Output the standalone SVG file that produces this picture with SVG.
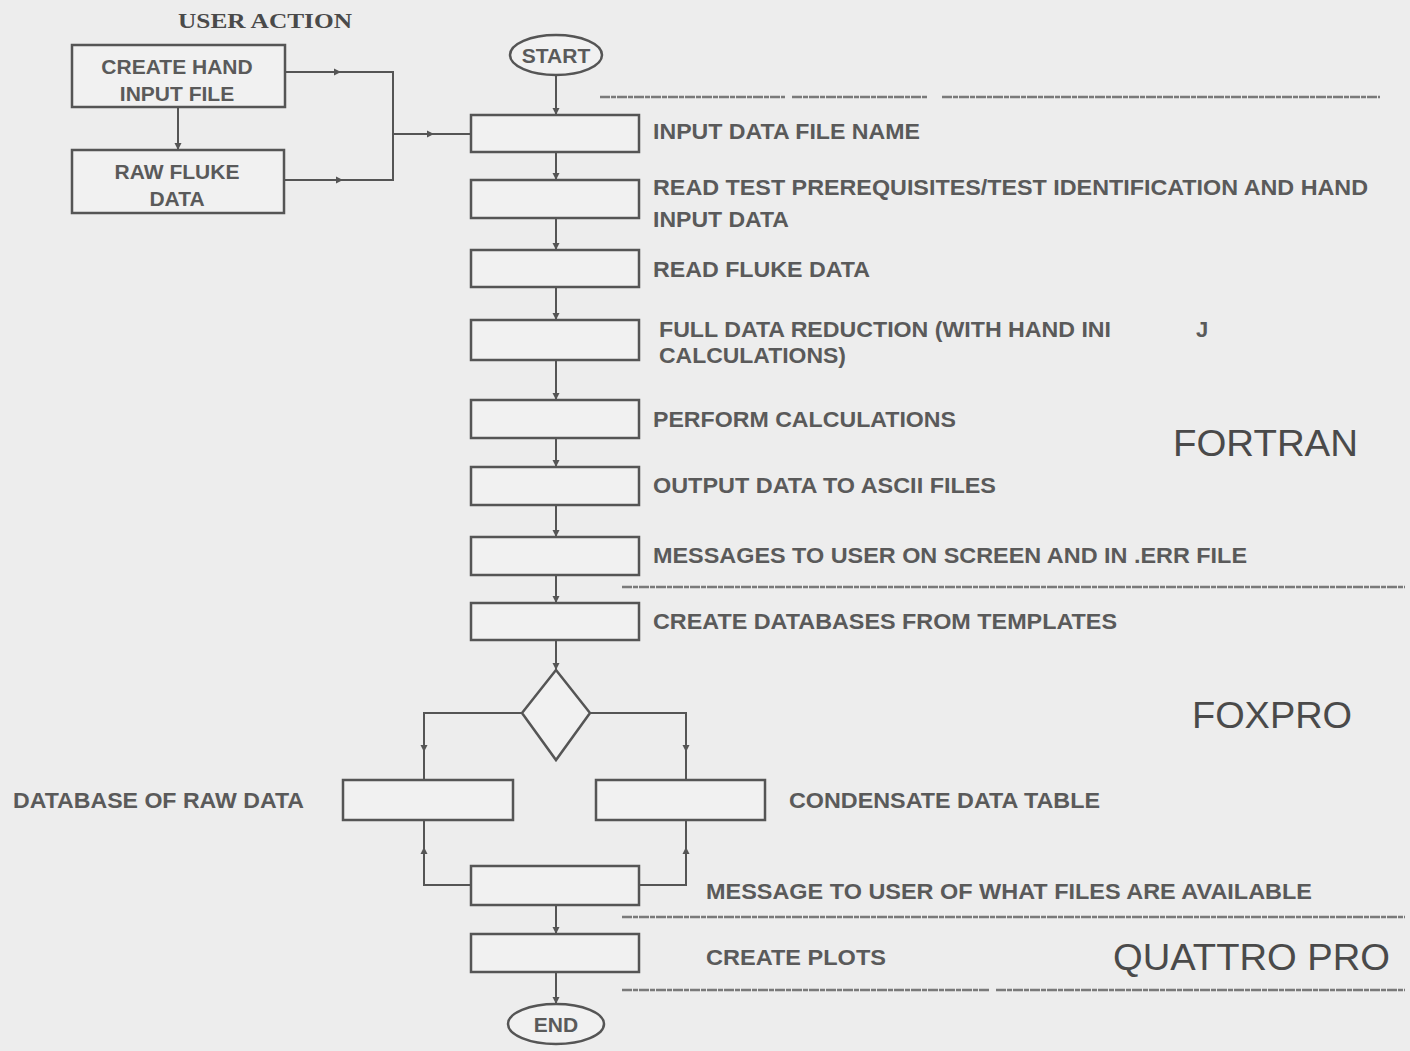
<svg xmlns="http://www.w3.org/2000/svg" width="1410" height="1051" viewBox="0 0 1410 1051">
<style>
.bx{fill:#f1f1f1;stroke:#555;stroke-width:2.5}
.ln{fill:none;stroke:#555;stroke-width:2}
.sep{fill:none;stroke:#7a7a7a;stroke-width:2.5;stroke-dasharray:10,1,5,1}
.t{font-family:"Liberation Sans",Arial,sans-serif;font-size:22px;font-weight:bold;fill:#5a5a5a}
.tc{font-family:"Liberation Sans",Arial,sans-serif;font-size:21px;font-weight:bold;fill:#5a5a5a;text-anchor:middle}
.big{font-family:"Liberation Sans",Arial,sans-serif;font-size:37px;fill:#4a4a4a}
.hd{font-family:"Liberation Serif","Times New Roman",serif;font-size:22px;font-weight:bold;fill:#4a4a4a}
</style>
<defs>
<marker id="arr" markerWidth="8" markerHeight="8" refX="7" refY="4" orient="auto" markerUnits="userSpaceOnUse">
<path d="M0,0.5 L7,4 L0,7.5 z" fill="#555"/>
</marker>
</defs>
<rect width="1410" height="1051" fill="#ededed"/>

<text class="hd" x="178" y="28" textLength="174" lengthAdjust="spacingAndGlyphs">USER ACTION</text>

<g id="separators">
<path class="sep" d="M600,97 H785 M792,97 H928 M942,97 H1380"/>
<path class="sep" d="M622,587 H1405"/>
<path class="sep" d="M622,917 H1405"/>
<path class="sep" d="M622,990 H990 M996,990 H1405"/>
</g>

<g id="connectors">
<line class="ln" x1="178" y1="107" x2="178" y2="150" marker-end="url(#arr)"/>
<line class="ln" x1="285" y1="72" x2="341" y2="72" marker-end="url(#arr)"/>
<polyline class="ln" points="338,72 393,72 393,180 338,180"/>
<line class="ln" x1="284" y1="180" x2="343" y2="180" marker-end="url(#arr)"/>
<line class="ln" x1="393" y1="134" x2="434" y2="134" marker-end="url(#arr)"/>
<line class="ln" x1="430" y1="134" x2="471" y2="134"/>
<line class="ln" x1="556" y1="75" x2="556" y2="115" marker-end="url(#arr)"/>
<line class="ln" x1="556" y1="152" x2="556" y2="180" marker-end="url(#arr)"/>
<line class="ln" x1="556" y1="218" x2="556" y2="250" marker-end="url(#arr)"/>
<line class="ln" x1="556" y1="287" x2="556" y2="320" marker-end="url(#arr)"/>
<line class="ln" x1="556" y1="360" x2="556" y2="400" marker-end="url(#arr)"/>
<line class="ln" x1="556" y1="438" x2="556" y2="467" marker-end="url(#arr)"/>
<line class="ln" x1="556" y1="505" x2="556" y2="537" marker-end="url(#arr)"/>
<line class="ln" x1="556" y1="575" x2="556" y2="603" marker-end="url(#arr)"/>
<line class="ln" x1="556" y1="640" x2="556" y2="670" marker-end="url(#arr)"/>
<polyline class="ln" points="522,713 424,713 424,752" marker-end="url(#arr)"/>
<line class="ln" x1="424" y1="750" x2="424" y2="780"/>
<polyline class="ln" points="590,713 686,713 686,752" marker-end="url(#arr)"/>
<line class="ln" x1="686" y1="750" x2="686" y2="780"/>
<polyline class="ln" points="471,885 424,885 424,847" marker-end="url(#arr)"/>
<line class="ln" x1="424" y1="850" x2="424" y2="820"/>
<polyline class="ln" points="639,885 686,885 686,847" marker-end="url(#arr)"/>
<line class="ln" x1="686" y1="850" x2="686" y2="820"/>
<line class="ln" x1="556" y1="905" x2="556" y2="934" marker-end="url(#arr)"/>
<line class="ln" x1="556" y1="972" x2="556" y2="1004" marker-end="url(#arr)"/>
</g>

<g id="create-hand">
<rect class="bx" x="72" y="45" width="213" height="62"/>
<text class="tc" x="177" y="74">CREATE HAND</text>
<text class="tc" x="177" y="101">INPUT FILE</text>
</g>
<g id="raw-fluke">
<rect class="bx" x="72" y="150" width="212" height="63"/>
<text class="tc" x="177" y="179">RAW FLUKE</text>
<text class="tc" x="177" y="206">DATA</text>
</g>

<g id="start">
<ellipse class="bx" cx="556" cy="55" rx="46" ry="20"/>
<text class="tc" x="556" y="63">START</text>
</g>

<g id="n1">
<rect class="bx" x="471" y="115" width="168" height="37"/>
<text class="t" x="653" y="139" textLength="267" lengthAdjust="spacingAndGlyphs">INPUT DATA FILE NAME</text>
</g>
<g id="n2">
<rect class="bx" x="471" y="180" width="168" height="38"/>
<text class="t" x="653" y="195" textLength="715" lengthAdjust="spacingAndGlyphs">READ TEST PREREQUISITES/TEST IDENTIFICATION AND HAND</text>
<text class="t" x="653" y="227" textLength="136" lengthAdjust="spacingAndGlyphs">INPUT DATA</text>
</g>
<g id="n3">
<rect class="bx" x="471" y="250" width="168" height="37"/>
<text class="t" x="653" y="277" textLength="217" lengthAdjust="spacingAndGlyphs">READ FLUKE DATA</text>
</g>
<g id="n4">
<rect class="bx" x="471" y="320" width="168" height="40"/>
<text class="t" x="659" y="337" textLength="452" lengthAdjust="spacingAndGlyphs">FULL DATA REDUCTION (WITH HAND INI</text>
<text class="t" x="1196" y="337">J</text>
<text class="t" x="659" y="363" textLength="187" lengthAdjust="spacingAndGlyphs">CALCULATIONS)</text>
</g>
<g id="n5">
<rect class="bx" x="471" y="400" width="168" height="38"/>
<text class="t" x="653" y="427" textLength="303" lengthAdjust="spacingAndGlyphs">PERFORM CALCULATIONS</text>
</g>
<g id="n6">
<rect class="bx" x="471" y="467" width="168" height="38"/>
<text class="t" x="653" y="493" textLength="343" lengthAdjust="spacingAndGlyphs">OUTPUT DATA TO ASCII FILES</text>
</g>
<g id="n7">
<rect class="bx" x="471" y="537" width="168" height="38"/>
<text class="t" x="653" y="563" textLength="594" lengthAdjust="spacingAndGlyphs">MESSAGES TO USER ON SCREEN AND IN .ERR FILE</text>
</g>
<g id="n8">
<rect class="bx" x="471" y="603" width="168" height="37"/>
<text class="t" x="653" y="629" textLength="464" lengthAdjust="spacingAndGlyphs">CREATE DATABASES FROM TEMPLATES</text>
</g>
<g id="decision">
<polygon class="bx" points="556,670 590,713 556,760 522,713"/>
</g>
<g id="raw-db">
<rect class="bx" x="343" y="780" width="170" height="40"/>
<text class="t" x="13" y="808" textLength="291" lengthAdjust="spacingAndGlyphs">DATABASE OF RAW DATA</text>
</g>
<g id="cond-table">
<rect class="bx" x="596" y="780" width="169" height="40"/>
<text class="t" x="789" y="808" textLength="311" lengthAdjust="spacingAndGlyphs">CONDENSATE DATA TABLE</text>
</g>
<g id="n9">
<rect class="bx" x="471" y="866" width="168" height="39"/>
<text class="t" x="706" y="899" textLength="606" lengthAdjust="spacingAndGlyphs">MESSAGE TO USER OF WHAT FILES ARE AVAILABLE</text>
</g>
<g id="n10">
<rect class="bx" x="471" y="934" width="168" height="38"/>
<text class="t" x="706" y="965" textLength="180" lengthAdjust="spacingAndGlyphs">CREATE PLOTS</text>
</g>
<g id="end">
<ellipse class="bx" cx="556" cy="1024" rx="48" ry="20"/>
<text class="tc" x="556" y="1032">END</text>
</g>

<g id="sections">
<text class="big" x="1173" y="456" textLength="185" lengthAdjust="spacingAndGlyphs">FORTRAN</text>
<text class="big" x="1192" y="728" textLength="160" lengthAdjust="spacingAndGlyphs">FOXPRO</text>
<text class="big" x="1113" y="970" textLength="277" lengthAdjust="spacingAndGlyphs">QUATTRO PRO</text>
</g>
</svg>
